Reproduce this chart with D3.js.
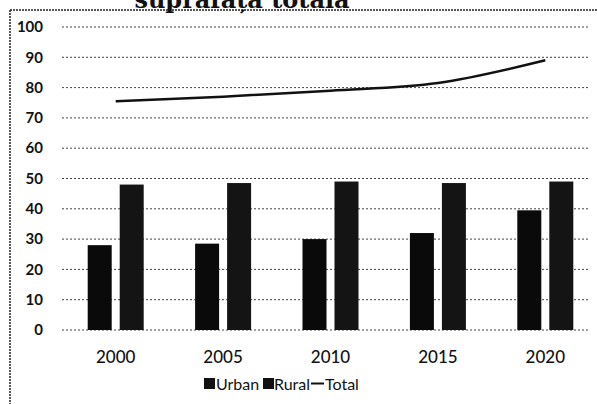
<!DOCTYPE html>
<html>
<head>
<meta charset="utf-8">
<script src="https://cdn.jsdelivr.net/npm/d3@7"></script>
<style>
  body { margin: 0; background: #fff; }
  text { font-family: Lato, "Open Sans", sans-serif; fill: #111; }
</style>
</head>
<body>
<script>
const years = ["2000", "2005", "2010", "2015", "2020"]
const urban = [28, 28.5, 30, 32, 39.5]
const rural = [48, 48.5, 49, 48.5, 49]
const total = [75.5, 77, 79, 81.5, 89]
const yTicks = [0, 10, 20, 30, 40, 50, 60, 70, 80, 90, 100]

const W = 597, H = 404
const svg = d3.select('body')
    .append('svg')
    .attr('width', W)
    .attr('height', H)

// frame (scanned page border)
svg.append('line')
    .attr('x1', 10).attr('x2', W).attr('y1', 10).attr('y2', 10)
    .attr('stroke', '#222').attr('stroke-width', 1.5).attr('stroke-dasharray', '2,1')
svg.append('line')
    .attr('x1', 10).attr('x2', 10).attr('y1', 10).attr('y2', H)
    .attr('stroke', '#222').attr('stroke-width', 1.5).attr('stroke-dasharray', '2,1')

// title, cut off at the top edge as in the scan
svg.append('text')
    .attr('x', 242).attr('y', 8)
    .attr('text-anchor', 'middle')
    .style('font-family', '"DejaVu Serif", "Liberation Serif", serif')
    .style('font-weight', 'bold')
    .style('font-size', '24px')
    .text('suprafața totală')

const left = 62, right = 599
const x = d3.scaleBand().domain(years).range([left, right])
const y = d3.scaleLinear().domain([0, 100]).range([330, 27])

// grid
svg.append('g').selectAll('line')
    .data(yTicks)
    .join('line')
    .attr('x1', left).attr('x2', 590)
    .attr('y1', d => y(d)).attr('y2', d => y(d))
    .attr('stroke', '#444')
    .attr('stroke-width', 1)
    .attr('stroke-dasharray', '2,2')

// y labels
svg.append('g').selectAll('text')
    .data(yTicks)
    .join('text')
    .attr('x', 43)
    .attr('y', d => y(d))
    .attr('dy', '0.35em')
    .attr('text-anchor', 'end')
    .style('font-size', '15px')
    .style('font-weight', 'bold')
    .text(d => d)

// bars
const barW = 24, gap = 8
const g = svg.append('g')
g.selectAll('rect.urban')
    .data(years)
    .join('rect')
    .attr('class', 'urban')
    .attr('x', d => x(d) + x.bandwidth() / 2 - gap / 2 - barW)
    .attr('y', (d, i) => y(urban[i]))
    .attr('width', barW)
    .attr('height', (d, i) => y(0) - y(urban[i]))
    .attr('fill', '#0a0a0a')
g.selectAll('rect.rural')
    .data(years)
    .join('rect')
    .attr('class', 'rural')
    .attr('x', d => x(d) + x.bandwidth() / 2 + gap / 2)
    .attr('y', (d, i) => y(rural[i]))
    .attr('width', barW)
    .attr('height', (d, i) => y(0) - y(rural[i]))
    .attr('fill', '#141414')

// total line
const line = d3.line()
    .x((d, i) => x(years[i]) + x.bandwidth() / 2)
    .y(d => y(d))
    .curve(d3.curveMonotoneX)
svg.append('path')
    .datum(total)
    .attr('d', line)
    .attr('fill', 'none')
    .attr('stroke', '#111')
    .attr('stroke-width', 2.5)

// x labels
svg.append('g').selectAll('text')
    .data(years)
    .join('text')
    .attr('x', d => x(d) + x.bandwidth() / 2)
    .attr('y', 363)
    .attr('text-anchor', 'middle')
    .style('font-size', '17px')
    .style('font-weight', '500')
    .text(d => d)

// legend
const lg = svg.append('g')
lg.append('rect').attr('x', 204).attr('y', 378).attr('width', 11).attr('height', 11).attr('fill', '#111')
lg.append('text').attr('x', 216).attr('y', 390).style('font-size', '16px').text('Urban')
lg.append('rect').attr('x', 263).attr('y', 378).attr('width', 11).attr('height', 11).attr('fill', '#111')
lg.append('text').attr('x', 274).attr('y', 390).style('font-size', '16px').text('Rural')
lg.append('line').attr('x1', 311).attr('x2', 324).attr('y1', 383.5).attr('y2', 383.5)
    .attr('stroke', '#111').attr('stroke-width', 2)
lg.append('text').attr('x', 325).attr('y', 390).style('font-size', '16px').text('Total')
</script>
</body>
</html>
